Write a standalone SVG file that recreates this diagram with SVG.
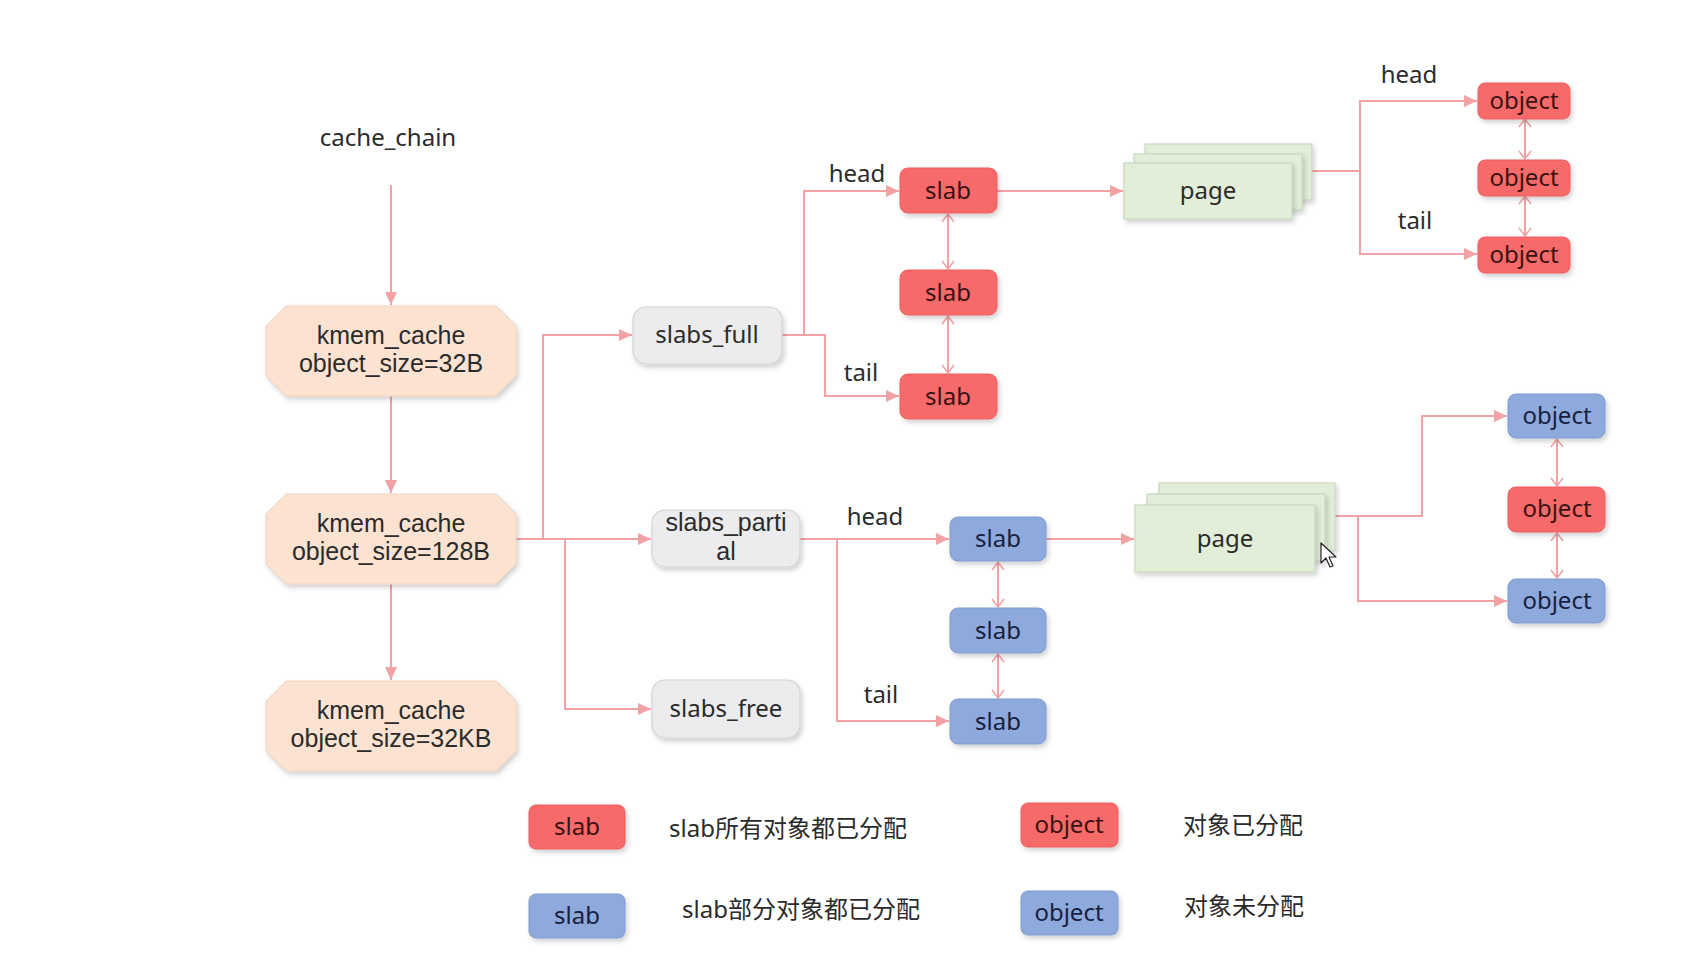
<svg xmlns="http://www.w3.org/2000/svg" width="1703" height="970" viewBox="0 0 1703 970">
<defs>
<filter id="sh" x="-20%" y="-20%" width="140%" height="150%">
<feDropShadow dx="2" dy="3" stdDeviation="2.5" flood-color="#000" flood-opacity="0.18"/>
</filter>
<marker id="ah" markerUnits="userSpaceOnUse" markerWidth="14" markerHeight="12" refX="13" refY="6" orient="auto">
<path d="M0,0 L13,6 L0,12 z" fill="#f2a2a5"/>
</marker>
<marker id="oa" markerUnits="userSpaceOnUse" markerWidth="14" markerHeight="14" refX="10" refY="7" orient="auto-start-reverse">
<path d="M2,1 L10,7 L2,13" fill="none" stroke="#f2a2a5" stroke-width="1.6"/>
</marker>
</defs>
<style>
.t{font-family:"Noto Sans","Noto Sans CJK SC",sans-serif;font-size:24px;fill:#2b2b2b;text-anchor:middle}
.t2{font-family:"Liberation Sans",Arial,sans-serif;font-size:25px;fill:#2b2b2b;text-anchor:middle}
.tl{font-family:"Noto Sans","Noto Sans CJK SC",sans-serif;font-size:24px;fill:#2b2b2b}
.kc{fill:#fce3d1;stroke:#f1d2bd;stroke-width:1;filter:url(#sh)}
.ls{fill:#ececee;stroke:#d3d3d6;stroke-width:1.2;filter:url(#sh)}
.rd{fill:#f76b6b;stroke:#ec5f60;stroke-width:1;filter:url(#sh)}
.bl{fill:#8eaadd;stroke:#7f9bd0;stroke-width:1;filter:url(#sh)}
.pg{fill:#e2eed8;stroke:#c9d8be;stroke-width:1.2;filter:url(#sh)}
.rt{fill:#3a1212}
.bt{fill:#17213d}
.c{fill:none;stroke:#f2a2a5;stroke-width:2}
</style>
<rect width="1703" height="970" fill="#ffffff"/>

<g id="connectors">
<path class="c" d="M391,185 V305" marker-end="url(#ah)"/>
<path class="c" d="M391,396 V493" marker-end="url(#ah)"/>
<path class="c" d="M391,584 V680" marker-end="url(#ah)"/>
<path class="c" d="M516,539 H651" marker-end="url(#ah)"/>
<path class="c" d="M543,539 V335 H632" marker-end="url(#ah)"/>
<path class="c" d="M565,539 V709 H651" marker-end="url(#ah)"/>
<path class="c" d="M782,335 H804 V191 H899" marker-end="url(#ah)"/>
<path class="c" d="M804,335 H825 V396 H899" marker-end="url(#ah)"/>
<path class="c" d="M948,214 V269" marker-start="url(#oa)" marker-end="url(#oa)"/>
<path class="c" d="M948,316 V373" marker-start="url(#oa)" marker-end="url(#oa)"/>
<path class="c" d="M997,191 H1123" marker-end="url(#ah)"/>
<path class="c" d="M1312,171 H1360 V101 H1477" marker-end="url(#ah)"/>
<path class="c" d="M1360,171 V254 H1477" marker-end="url(#ah)"/>
<path class="c" d="M1525,119 V159" marker-start="url(#oa)" marker-end="url(#oa)"/>
<path class="c" d="M1525,196 V236" marker-start="url(#oa)" marker-end="url(#oa)"/>
<path class="c" d="M800,539 H949" marker-end="url(#ah)"/>
<path class="c" d="M837,539 V721 H949" marker-end="url(#ah)"/>
<path class="c" d="M998,562 V607" marker-start="url(#oa)" marker-end="url(#oa)"/>
<path class="c" d="M998,654 V698" marker-start="url(#oa)" marker-end="url(#oa)"/>
<path class="c" d="M1046,539 H1134" marker-end="url(#ah)"/>
<path class="c" d="M1335,516 H1422 V416 H1507" marker-end="url(#ah)"/>
<path class="c" d="M1358,516 V601 H1507" marker-end="url(#ah)"/>
<path class="c" d="M1557,439 V486" marker-start="url(#oa)" marker-end="url(#oa)"/>
<path class="c" d="M1557,533 V578" marker-start="url(#oa)" marker-end="url(#oa)"/>
<text class="t" x="857" y="182">head</text>
<text class="t" x="861" y="381">tail</text>
<text class="t" x="1409" y="83">head</text>
<text class="t" x="1415" y="229">tail</text>
<text class="t" x="875" y="525">head</text>
<text class="t" x="881" y="703">tail</text>
</g>

<g id="cache_chain"><text class="t" x="388" y="146">cache_chain</text></g>

<g id="kmem1">
<polygon class="kc" points="286,306 496,306 516,326 516,376 496,396 286,396 266,376 266,326"/>
<text class="t2" x="391" y="344"><tspan x="391">kmem_cache</tspan><tspan x="391" dy="28">object_size=32B</tspan></text>
</g>
<g id="kmem2">
<polygon class="kc" points="286,494 496,494 516,514 516,564 496,584 286,584 266,564 266,514"/>
<text class="t2" x="391" y="532"><tspan x="391">kmem_cache</tspan><tspan x="391" dy="28">object_size=128B</tspan></text>
</g>
<g id="kmem3">
<polygon class="kc" points="286,681 496,681 516,701 516,751 496,771 286,771 266,751 266,701"/>
<text class="t2" x="391" y="719"><tspan x="391">kmem_cache</tspan><tspan x="391" dy="28">object_size=32KB</tspan></text>
</g>

<g id="slabs_full">
<rect class="ls" x="633" y="307" width="149" height="57" rx="13"/>
<text class="t" x="707" y="343">slabs_full</text>
</g>
<g id="slabs_partial">
<rect class="ls" x="652" y="510" width="148" height="57" rx="13"/>
<text class="t2" x="726" y="531"><tspan x="726">slabs_parti</tspan><tspan x="726" dy="29">al</tspan></text>
</g>
<g id="slabs_free">
<rect class="ls" x="652" y="680" width="148" height="58" rx="13"/>
<text class="t" x="726" y="717">slabs_free</text>
</g>

<g id="slab_full_1"><rect class="rd" x="900" y="168" width="97" height="45" rx="8"/><text class="t rt" x="948" y="199">slab</text></g>
<g id="slab_full_2"><rect class="rd" x="900" y="270" width="97" height="45" rx="8"/><text class="t rt" x="948" y="301">slab</text></g>
<g id="slab_full_3"><rect class="rd" x="900" y="374" width="97" height="45" rx="8"/><text class="t rt" x="948" y="405">slab</text></g>

<g id="page1">
<rect class="pg" x="1145" y="144" width="167" height="56"/>
<rect class="pg" x="1134" y="154" width="168" height="56"/>
<rect class="pg" x="1124" y="163" width="168" height="56"/>
<text class="t" x="1208" y="199">page</text>
</g>

<g id="obj_top_1"><rect class="rd" x="1478" y="83" width="92" height="36" rx="7"/><text class="t rt" x="1524" y="109">object</text></g>
<g id="obj_top_2"><rect class="rd" x="1478" y="160" width="92" height="36" rx="7"/><text class="t rt" x="1524" y="186">object</text></g>
<g id="obj_top_3"><rect class="rd" x="1478" y="237" width="92" height="36" rx="7"/><text class="t rt" x="1524" y="263">object</text></g>

<g id="slab_partial_1"><rect class="bl" x="950" y="517" width="96" height="44" rx="8"/><text class="t bt" x="998" y="547">slab</text></g>
<g id="slab_partial_2"><rect class="bl" x="950" y="608" width="96" height="45" rx="8"/><text class="t bt" x="998" y="639">slab</text></g>
<g id="slab_partial_3"><rect class="bl" x="950" y="699" width="96" height="45" rx="8"/><text class="t bt" x="998" y="730">slab</text></g>

<g id="page2">
<rect class="pg" x="1159" y="483" width="176" height="67"/>
<rect class="pg" x="1147" y="494" width="178" height="67"/>
<rect class="pg" x="1135" y="505" width="180" height="67"/>
<text class="t" x="1225" y="547">page</text>
</g>

<g id="obj_bot_1"><rect class="bl" x="1508" y="394" width="97" height="44" rx="8"/><text class="t bt" x="1557" y="424">object</text></g>
<g id="obj_bot_2"><rect class="rd" x="1508" y="487" width="97" height="45" rx="8"/><text class="t rt" x="1557" y="517">object</text></g>
<g id="obj_bot_3"><rect class="bl" x="1508" y="579" width="97" height="44" rx="8"/><text class="t bt" x="1557" y="609">object</text></g>

<g id="cursor">
<path d="M1321,543 L1321,563 L1326,558 L1330,567 L1333,566 L1329,557 L1336,557 Z" fill="#ffffff" stroke="#222" stroke-width="1.2" stroke-linejoin="round"/>
</g>

<g id="legend">
<g id="legend_slab_red"><rect class="rd" x="529" y="805" width="96" height="44" rx="7"/><text class="t rt" x="577" y="835">slab</text></g>
<text class="tl" x="669" y="837">slab所有对象都已分配</text>
<g id="legend_slab_blue"><rect class="bl" x="529" y="894" width="96" height="44" rx="7"/><text class="t bt" x="577" y="924">slab</text></g>
<text class="tl" x="682" y="918">slab部分对象都已分配</text>
<g id="legend_obj_red"><rect class="rd" x="1021" y="803" width="97" height="44" rx="7"/><text class="t rt" x="1069" y="833">object</text></g>
<text class="tl" x="1183" y="834">对象已分配</text>
<g id="legend_obj_blue"><rect class="bl" x="1021" y="891" width="97" height="44" rx="7"/><text class="t bt" x="1069" y="921">object</text></g>
<text class="tl" x="1184" y="915">对象未分配</text>
</g>
</svg>
